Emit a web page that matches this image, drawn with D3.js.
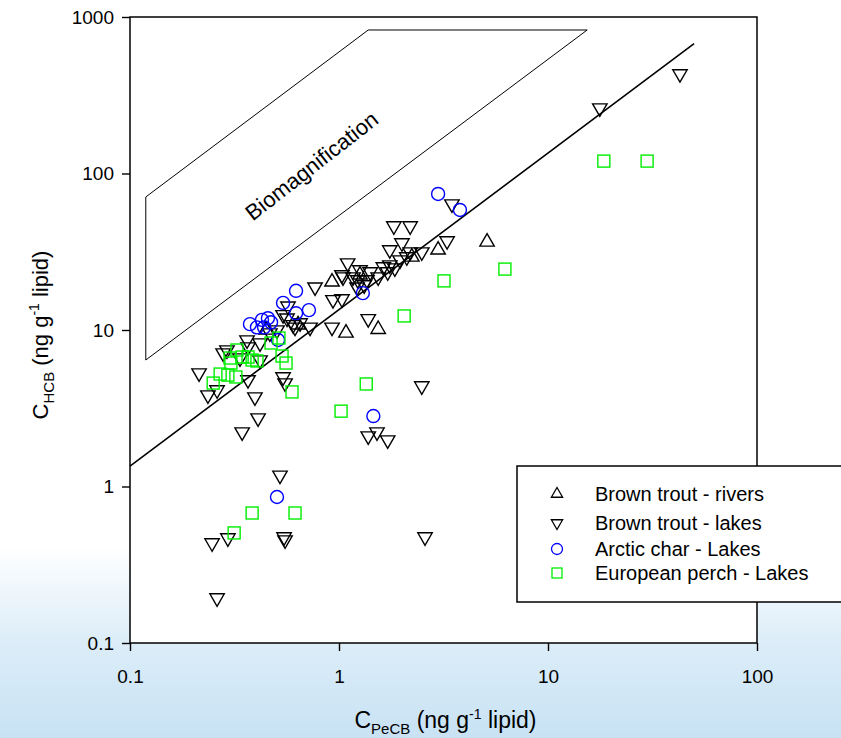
<!DOCTYPE html>
<html>
<head>
<meta charset="utf-8">
<script src="https://cdn.jsdelivr.net/npm/d3@7"></script>
<style>
  body { margin: 0; background: #fff; }
  svg text { font-family: "Liberation Sans", Arial, sans-serif; }
</style>
</head>
<body>
<svg id="chart" width="841" height="738"></svg>
<script>
// values (x = PeCB, y = HCB, ng/g lipid)
var xTicks = [0.1, 1, 10, 100];
var yTicks = [0.1, 1, 10, 100, 1000];

var troutRivers = [[0.926,20.3],[1.08,9.57],[1.54,10.1],[2.98,32.5],[5.11,36.5],[2.23,29.3],
  [0.637,10.8],[1.26,22.5],[0.448,10.0]];

var troutLakes = [[42.8,433],[17.7,262],[3.47,63.8],[3.29,37.1],[1.83,46.2],[2.19,46.2],[2.49,31.5],
  [2.0,36.0],[1.10,26.8],[0.768,18.8],[1.033,15.8],[1.38,11.8],[0.926,10.4],[0.727,10.4],[0.616,10.4],
  [0.564,11.9],[1.045,21.8],[1.26,24.2],[1.41,23.5],[1.63,25.3],[1.75,26.0],[1.96,28.0],[2.11,29.3],
  [1.54,21.8],[1.167,21.8],[1.23,20.9],[1.32,19.4],[1.36,20.9],[1.71,23.5],[1.85,24.9],[2.19,31.5],
  [1.75,32.5],[1.22,18.8],[1.033,22.5],[0.936,15.6],[0.540,12.5],[0.603,10.8],[0.419,8.26],[0.291,7.45],
  [0.367,7.78],[0.336,6.62],[0.214,5.31],[0.279,7.13],[0.367,4.80],[0.540,5.01],[0.552,4.58],[0.236,3.84],
  [0.396,3.73],[0.419,6.43],[0.363,8.63],[0.261,4.14],[0.410,2.74],[0.344,2.23],[2.49,4.39],[1.38,2.10],
  [1.52,2.23],[1.71,1.98],[0.522,1.18],[0.546,0.476],[0.552,0.455],[0.294,0.469],[0.247,0.436],
  [0.261,0.194],[2.58,0.476],[0.570,14.2],[0.651,11.1],[0.505,10.0],[0.467,9.57]];

var arcticChar = [[2.98,74.0],[3.79,58.5],[1.30,17.2],[0.623,17.8],[0.718,13.4],[0.623,12.8],[0.540,14.9],
  [1.46,2.82],[0.505,0.857],[0.375,10.9],[0.428,11.6],[0.438,10.4],[0.473,11.2],[0.405,10.4],[0.511,8.63],
  [0.457,11.9]];

var perch = [[0.250,4.58],[0.270,5.23],[0.294,5.15],[0.321,5.01],[0.325,7.45],[0.301,6.62],[0.344,6.72],
  [0.367,6.72],[0.405,6.34],[0.384,6.43],[0.473,8.26],[0.516,8.89],[0.534,6.82],[0.558,6.15],[0.596,4.02],
  [1.023,3.03],[1.35,4.52],[2.05,12.3],[3.18,20.6],[6.22,24.5],[18.5,120],[29.8,120],[0.384,0.677],
  [0.616,0.677],[0.315,0.505],[0.304,6.15]];

// 1:1 regression line and the biomagnification zone
var fitLine = [[0.1,1.35],[50,675]];
var bioZone = [[0.119,6.43],[0.119,70.8],[1.38,826],[15.4,826]];

var legendItems = ["Brown trout - rivers", "Brown trout - lakes", "Arctic char - Lakes", "European perch - Lakes"];

var svg = d3.select("#chart");
var margin = {left: 130, right: 757, top: 17, bottom: 643};

var x = d3.scaleLog().domain([0.1, 100]).range([margin.left, margin.right]);
var y = d3.scaleLog().domain([0.1, 1000]).range([margin.bottom, margin.top]);

// page background, light blue towards the bottom
var defs = svg.append("defs");
var grad = defs.append("linearGradient").attr("id", "bg").attr("x1", 0).attr("y1", 0).attr("x2", 0).attr("y2", 1);
grad.append("stop").attr("offset", "0.74").attr("stop-color", "#ffffff");
grad.append("stop").attr("offset", "0.87").attr("stop-color", "#dcedf8");
grad.append("stop").attr("offset", "1").attr("stop-color", "#c8e2f4");
svg.append("rect").attr("width", 841).attr("height", 738).attr("fill", "url(#bg)");

svg.append("rect")
  .attr("x", margin.left).attr("y", margin.top)
  .attr("width", margin.right - margin.left).attr("height", margin.bottom - margin.top)
  .attr("fill", "#fff");

var g = svg.append("g");

g.append("path")
  .datum(bioZone)
  .attr("d", d3.line().x(d => x(d[0])).y(d => y(d[1])).curve(d3.curveLinearClosed))
  .attr("fill", "none")
  .attr("stroke", "#000")
  .attr("stroke-width", 1);

g.append("path")
  .datum(fitLine)
  .attr("d", d3.line().x(d => x(d[0])).y(d => y(d[1])))
  .attr("stroke", "#000")
  .attr("stroke-width", 1.6);

g.append("text")
  .attr("transform", "translate(" + x(0.74) + "," + y(112) + ") rotate(-38)")
  .attr("text-anchor", "middle")
  .attr("dy", "0.35em")
  .style("font-size", "22px")
  .text("Biomagnification");

// markers
var triUp = d3.symbol().type(d3.symbolTriangle).size(90);
function markers(data, cls) {
  return g.append("g").attr("class", cls).selectAll("path").data(data).enter();
}

markers(troutRivers, "rivers").append("path")
  .attr("d", triUp)
  .attr("transform", d => "translate(" + x(d[0]) + "," + y(d[1]) + ")")
  .attr("fill", "none").attr("stroke", "#000").attr("stroke-width", 1.4);

markers(troutLakes, "lakes").append("path")
  .attr("d", triUp)
  .attr("transform", d => "translate(" + x(d[0]) + "," + y(d[1]) + ") rotate(180)")
  .attr("fill", "none").attr("stroke", "#000").attr("stroke-width", 1.4);

markers(arcticChar, "char").append("circle")
  .attr("cx", d => x(d[0]))
  .attr("cy", d => y(d[1]))
  .attr("r", 6.5)
  .attr("fill", "none").attr("stroke", "#0000ff").attr("stroke-width", 1.4);

markers(perch, "perch").append("rect")
  .attr("x", d => x(d[0]) - 6)
  .attr("y", d => y(d[1]) - 6)
  .attr("width", 12).attr("height", 12)
  .attr("fill", "none").attr("stroke", "#00ee00").attr("stroke-width", 1.4);

// axes
var fmt = d => d3.format("~g")(d);

var xAxis = svg.append("g")
  .attr("transform", "translate(0," + margin.bottom + ")")
  .call(d3.axisBottom(x).tickValues(xTicks).tickFormat(fmt).tickSize(8).tickSizeOuter(0));
var yAxis = svg.append("g")
  .attr("transform", "translate(" + margin.left + ",0)")
  .call(d3.axisLeft(y).tickValues(yTicks).tickFormat(fmt).tickSize(8).tickSizeOuter(0));

[xAxis, yAxis].forEach(function (a) {
  a.select(".domain").remove();
  a.selectAll("line").attr("stroke", "#000").attr("stroke-width", 1.4);
  a.selectAll("text").attr("fill", "#000").style("font-size", "19px")
    .style("font-family", "'Liberation Sans', Arial, sans-serif");
});
xAxis.selectAll("text").attr("dy", "1.5em");
yAxis.selectAll("text").attr("x", -16);

svg.append("rect")
  .attr("x", margin.left).attr("y", margin.top)
  .attr("width", margin.right - margin.left).attr("height", margin.bottom - margin.top)
  .attr("fill", "none").attr("stroke", "#000").attr("stroke-width", 1.5);

// axis titles
var xt = svg.append("text")
  .attr("x", (margin.left + margin.right) / 2 + 2).attr("y", 728)
  .attr("text-anchor", "middle")
  .style("font-size", "23px");
xt.append("tspan").text("C");
xt.append("tspan").attr("dy", 6).style("font-size", "15px").text("PeCB");
xt.append("tspan").attr("dy", -6).text(" (ng g");
xt.append("tspan").attr("dy", -9).style("font-size", "14px").text("-1");
xt.append("tspan").attr("dy", 9).text(" lipid)");

var yt = svg.append("text")
  .attr("transform", "translate(48," + ((margin.top + margin.bottom) / 2 + 5) + ") rotate(-90)")
  .attr("text-anchor", "middle")
  .style("font-size", "22px");
yt.append("tspan").text("C");
yt.append("tspan").attr("dy", 6).style("font-size", "15px").text("HCB");
yt.append("tspan").attr("dy", -6).text(" (ng g");
yt.append("tspan").attr("dy", -9).style("font-size", "14px").text("-1");
yt.append("tspan").attr("dy", 9).text(" lipid)");

// legend
var lg = svg.append("g").attr("transform", "translate(517,466)");
lg.append("rect")
  .attr("width", 330).attr("height", 136)
  .attr("fill", "#fff").attr("stroke", "#000").attr("stroke-width", 1.5);

var rowY = [28, 57, 83, 107];
var legSym = d3.symbol().type(d3.symbolTriangle).size(55);
lg.selectAll("g.item")
  .data(legendItems)
  .enter().append("g")
  .attr("class", "item")
  .attr("transform", (d, i) => "translate(40," + rowY[i] + ")")
  .each(function (d, i) {
    var it = d3.select(this);
    if (i === 0) it.append("path").attr("d", legSym).attr("fill", "none").attr("stroke", "#000").attr("stroke-width", 1.3);
    if (i === 1) it.append("path").attr("d", legSym).attr("transform", "rotate(180)").attr("fill", "none").attr("stroke", "#000").attr("stroke-width", 1.3);
    if (i === 2) it.append("circle").attr("r", 5.5).attr("fill", "none").attr("stroke", "#0000ff").attr("stroke-width", 1.3);
    if (i === 3) it.append("rect").attr("x", -5).attr("y", -5).attr("width", 10).attr("height", 10).attr("fill", "none").attr("stroke", "#00ee00").attr("stroke-width", 1.3);
    it.append("text")
      .attr("x", 38).attr("dy", "0.36em")
      .style("font-size", "20px")
      .text(d);
  });
</script>
</body>
</html>
